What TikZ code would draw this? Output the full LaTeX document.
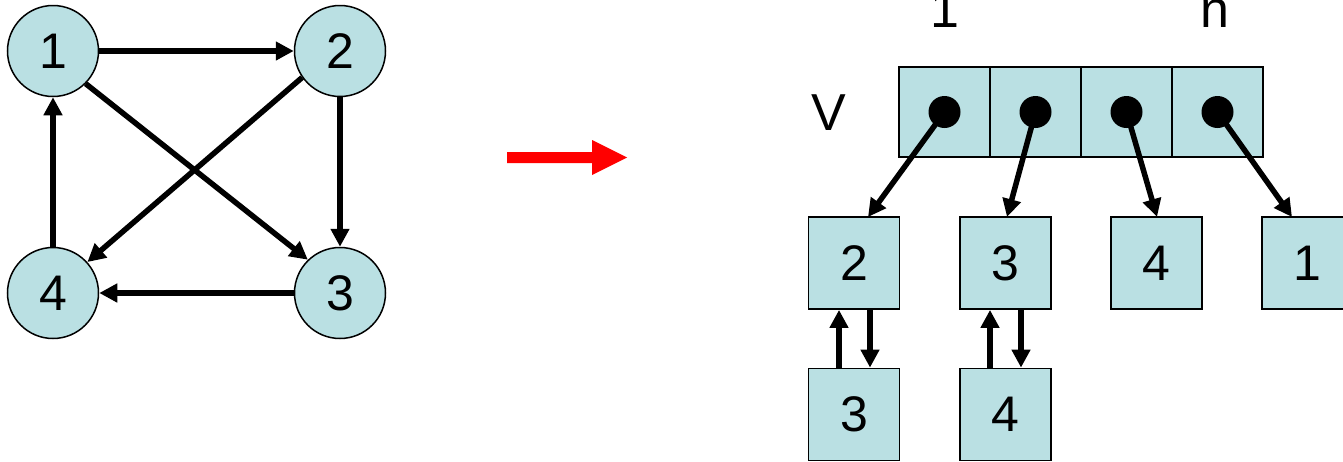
\documentclass[tikz,border=0pt]{standalone}
\usepackage{fontspec}
\setmainfont{Liberation Sans}
\usetikzlibrary{arrows.meta}
\definecolor{cellfill}{RGB}{186,224,227}
\begin{document}
\begin{tikzpicture}[x=1pt,y=-1pt,
  vert/.style={circle,draw,line width=1.5pt,fill=cellfill,minimum size=91pt,inner sep=0pt,font=\fontsize{50}{60}\selectfont},
  cell/.style={rectangle,draw,line width=1.8pt,fill=cellfill,minimum width=91pt,minimum height=90pt,inner sep=0pt},
  lbox/.style={rectangle,draw,line width=1.8pt,fill=cellfill,minimum width=91pt,minimum height=92pt,inner sep=0pt,font=\fontsize{50}{60}\selectfont},
  lbl/.style={font=\fontsize{52}{60}\selectfont,inner sep=0pt},
  edge/.style={line width=5.5pt,-{Triangle[length=18pt,width=18pt]}},
  ptr/.style={line width=5.5pt,-{Triangle[length=18pt,width=18pt]}},
  dot/.style={circle,fill=black,minimum size=32pt,inner sep=0pt}]
\useasboundingbox (0,0) rectangle (1343,461);
% graph
\node[vert] (v1) at (53,51) {1};
\node[vert] (v2) at (340,51) {2};
\node[vert] (v3) at (340,293) {3};
\node[vert] (v4) at (53,293) {4};
\draw[edge] (v1.east) -- (v2.west);
\draw[edge] (v2.south) -- (v3.north);
\draw[edge] (v3.west) -- (v4.east);
\draw[edge] (v4.north) -- (v1.south);
\draw[edge] (v1.-45) -- (v3.134);
\draw[edge] (v2.215) -- (v4.42);
% red arrow
\fill[red] (507,152) -- (592,152) -- (592,140) -- (627,157.5) -- (592,175) -- (592,163) -- (507,163) -- cycle;
% array
\node[cell] (c1) at (944.5,112) {};
\node[cell] (c2) at (1035.5,112) {};
\node[cell] (c3) at (1126.5,112) {};
\node[cell] (c4) at (1217.5,112) {};
\node[lbl,anchor=base] (lv) at (829,130) {V};
\node[lbl,anchor=base] (l1) at (945,27) {1};
\node[lbl,anchor=base] (ln) at (1215,27) {n};
% lists
\node[lbox] (a2) at (854,263) {2};
\node[lbox] (b3) at (1005.5,263) {3};
\node[lbox] (c4b) at (1156.5,263) {4};
\node[lbox] (d1) at (1307.5,263) {1};
\node[lbox] (a3) at (854,414.5) {3};
\node[lbox] (b4) at (1005.5,414.5) {4};
\coordinate (t1) at (868,217);
\coordinate (t2) at (1007,217);
\coordinate (t3) at (1157,217);
\coordinate (t4) at (1292,217);
\draw[ptr] (c1.center) -- (t1);
\draw[ptr] (c2.center) -- (t2);
\draw[ptr] (c3.center) -- (t3);
\draw[ptr] (c4.center) -- (t4);
\node[dot] (d1p) at (c1.center) {};
\node[dot] (d2p) at (c2.center) {};
\node[dot] (d3p) at (c3.center) {};
\node[dot] (d4p) at (c4.center) {};
\draw[ptr] (a3.north -| 839,0) -- (a2.south -| 839,0);
\draw[ptr] (a2.south -| 870,0) -- (a3.north -| 870,0);
\draw[ptr] (b4.north -| 990,0) -- (b3.south -| 990,0);
\draw[ptr] (b3.south -| 1021,0) -- (b4.north -| 1021,0);
\end{tikzpicture}
\end{document}
